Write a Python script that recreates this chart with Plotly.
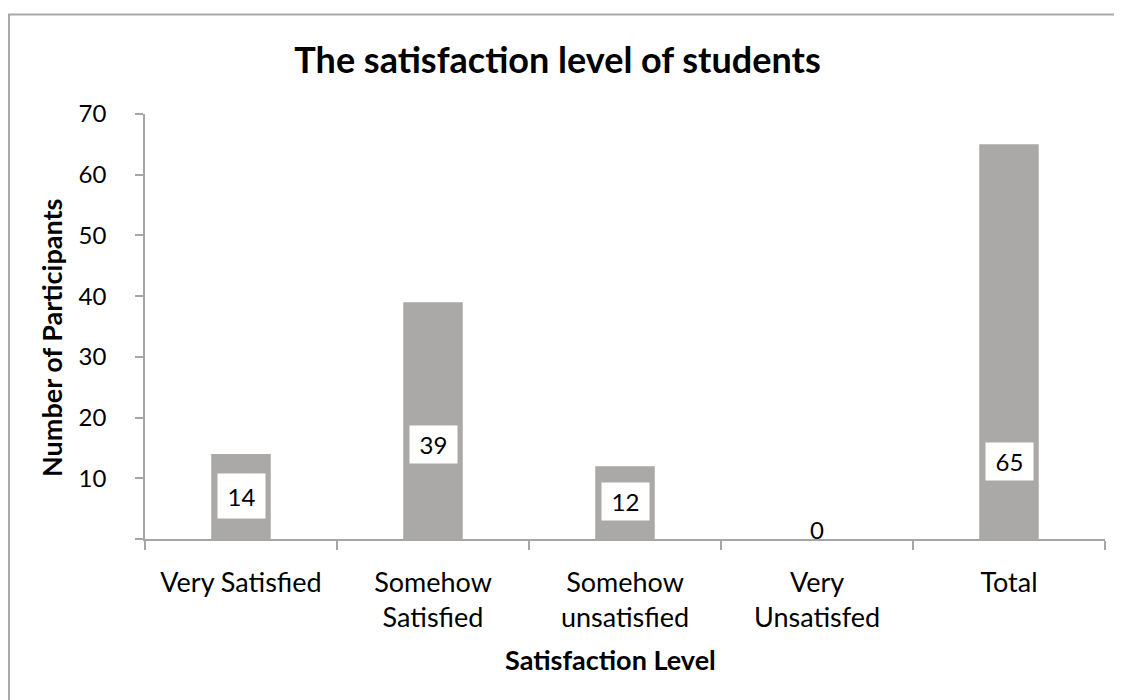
import plotly.graph_objects as go

categories = ["Very Satisfied", "Somehow<br>Satisfied", "Somehow<br>unsatisfied", "Very<br>Unsatisfed", "Total"]
values = [14, 39, 12, 0, 65]
label_texts = ["14", "39", "12", "0", "65"]
y_ticks = [0, 10, 20, 30, 40, 50, 60, 70]
y_ticktext = ["", "10", "20", "30", "40", "50", "60", "70"]

# layout-only: vertical placement of the data label boxes (axis units)
label_y = [7.1, 15.5, 6.1, 0, 12.8]
label_h = [42, 35, 35, 0, 35]

FONT = "Lato"
BAR = "#AAA9A7"
AXIS = "#A6A6A6"
W, H = 1114, 692
ML, MR, MT, MB = 137, 17, 106, 161

fig = go.Figure()
fig.add_trace(go.Bar(x=categories, y=values, marker=dict(color=BAR, line=dict(width=0)),
                     width=0.31, hoverinfo="skip"))

for c, v, t, ly, lh in zip(categories, values, label_texts, label_y, label_h):
    if v == 0:
        fig.add_annotation(x=c, y=0, text=t, showarrow=False, yanchor="bottom",
                           font=dict(family=FONT, size=24, color="black"), yshift=-7)
    else:
        fig.add_annotation(x=c, y=ly, text=t, showarrow=False, bgcolor="white",
                           width=45, height=lh, borderpad=1,
                           font=dict(family=FONT, size=24, color="black"))

# axis titles
fig.add_annotation(xref="paper", yref="paper", x=0.4844, y=-0.2847, xanchor="center", yanchor="middle",
                   text="<b>Satisfaction Level</b>", showarrow=False,
                   font=dict(family=FONT, size=27, color="black"))
fig.add_annotation(xref="paper", yref="paper", x=-0.0969, y=0.473, xanchor="center", yanchor="middle",
                   text="<b>Number of Participants</b>", showarrow=False, textangle=-90,
                   font=dict(family=FONT, size=27, color="black"))

# outer chart border (only top and left edges visible)
fig.add_shape(type="rect", xref="paper", yref="paper", x0=-0.1417, x1=1.2, y0=-0.6, y1=1.234,
              line=dict(color="#A9A9A9", width=2), fillcolor="rgba(0,0,0,0)", layer="below")

fig.update_layout(
    width=W, height=H,
    margin=dict(l=ML, r=MR, t=MT, b=MB),
    paper_bgcolor="white", plot_bgcolor="white",
    showlegend=False,
    font=dict(family=FONT, size=27, color="black"),
    title=dict(text="<b>The satisfaction level of students</b>", x=0.4933, xanchor="center",
               y=1 - 52 / H, yanchor="middle", font=dict(family=FONT, size=36, color="black")),
    xaxis=dict(
        type="category", range=[-0.5, 4.5], showline=True, linecolor=AXIS, linewidth=1.5,
        ticks="outside", ticklen=9, tickcolor=AXIS, tickwidth=1.5, tickson="boundaries",
        showgrid=False, tickfont=dict(family=FONT, size=27, color="black"),
        ticklabelstandoff=19,
    ),
    yaxis=dict(
        range=[0, 70], tickvals=y_ticks, ticktext=y_ticktext, showline=True, linecolor=AXIS,
        linewidth=1.5, ticks="outside", ticklen=8, tickcolor=AXIS, tickwidth=1.5,
        showgrid=False, zeroline=False, tickfont=dict(family=FONT, size=24, color="black"),
        ticklabelstandoff=24,
    ),
)

fig.write_html("out.html")
